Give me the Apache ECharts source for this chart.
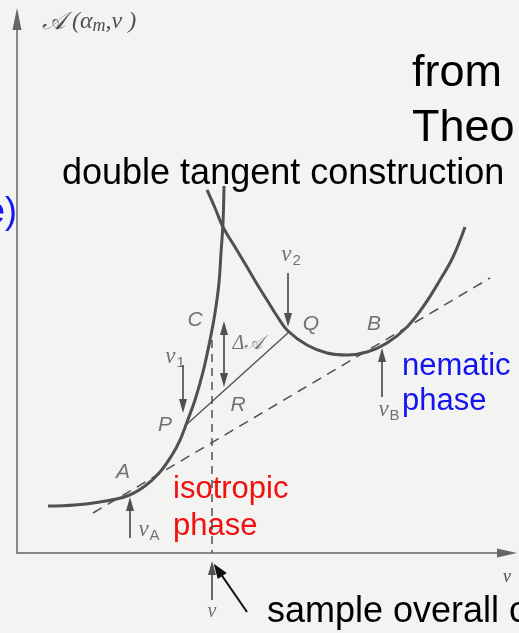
<!DOCTYPE html>
<html>
<head>
<meta charset="utf-8">
<script src="https://cdn.jsdelivr.net/npm/echarts@6/dist/echarts.min.js"></script>
<style>
  html, body { margin: 0; padding: 0; background: #f3f3f1; }
  #chart { width: 519px; height: 633px; }
</style>
</head>
<body>
<div id="chart"></div>
<script>
// Free energy 𝒜(α_m, ν) against concentration ν, both in arbitrary units (0–100).

// isotropic branch (left)
const isotropicCurve = [
  [6.33, 8.80], [11.84, 8.99], [16.94, 9.55], [22.45, 10.67], [26.12, 12.55],
  [29.18, 15.17], [31.63, 18.35], [33.27, 21.16], [34.69, 24.53], [36.33, 28.65],
  [37.96, 33.90], [39.39, 39.89], [40.41, 44.94], [41.22, 50.56], [41.63, 56.18],
  [42.04, 61.80], [42.24, 68.73]
];

// nematic branch (right)
const nematicCurve = [
  [38.78, 67.98], [40.41, 64.61], [42.04, 61.05], [44.49, 57.30], [46.94, 53.56],
  [48.98, 50.37], [51.02, 47.38], [53.06, 44.38], [55.31, 41.57], [59.18, 38.95],
  [63.27, 37.45], [67.35, 37.08], [71.43, 37.64], [75.51, 39.33], [79.59, 42.32],
  [82.86, 46.07], [86.33, 51.12], [88.98, 55.43], [91.43, 61.05]
];

// double tangent touching both branches at A and B
const commonTangent = [[15.51, 7.49], [96.53, 51.50]];
// chord from P (isotropic) to Q (nematic)
const chordPQ = [[34.49, 23.97], [55.51, 41.39]];
// overall sample concentration ν and the height of C above it
const overallNu = 39.80;
const heightAtC = 39.89;

// arrows: [from, to] in axis units
const singleArrows = [
  [[33.88, 35.21], [33.88, 27.53]],   // ν1
  [[55.31, 52.43], [55.31, 43.63]],   // ν2
  [[74.49, 29.21], [74.49, 37.08]],   // νB
  [[23.06, 2.81], [23.06, 9.18]],     // νA
  [[39.80, -8.80], [39.80, -2.81]]    // ν on the axis
];
const deltaArrow = [[42.24, 42.13], [42.24, 32.40]];
const pointerArrow = [[46.94, -11.05], [41.02, -3.15]];

// point letters and symbols
const pointLabels = [
  ['A', 21.63, 15.17], ['P', 30.20, 23.97], ['C', 36.33, 43.63],
  ['R', 45.10, 27.72], ['Q', 60.00, 42.88], ['B', 72.86, 42.88]
];
const nuLabels = [
  ['1', 32.24, 36.70], ['2', 55.92, 55.81], ['B', 75.92, 26.78], ['A', 26.94, 4.31]
];

const INK = '#505050';
const serifItalic = { fontFamily: 'Liberation Serif', fontStyle: 'italic', color: INK };

const chart = echarts.init(document.getElementById('chart'), null, { renderer: 'canvas' });

const option = {
  backgroundColor: '#f3f3f1',
  animation: false,
  grid: { left: 17, top: 19, width: 490, height: 534 },
  xAxis: {
    type: 'value', min: 0, max: 100,
    axisLine: { lineStyle: { color: '#666', width: 1.5 }, symbol: ['none', 'triangle'], symbolSize: [9, 20] },
    axisTick: { show: false }, axisLabel: { show: false }, splitLine: { show: false },
    name: 'ν', nameLocation: 'end', nameGap: 0,
    nameTextStyle: { fontFamily: 'Liberation Serif', fontStyle: 'italic', fontSize: 18, color: INK,
      align: 'center', verticalAlign: 'top', padding: [15, 0, 0, 0] }
  },
  yAxis: {
    type: 'value', min: 0, max: 100,
    axisLine: { lineStyle: { color: '#666', width: 1.5 }, symbol: ['none', 'triangle'], symbolSize: [9, 22] },
    axisTick: { show: false }, axisLabel: { show: false }, splitLine: { show: false },
    name: '{a|𝒜}{t|(α}{m|m}{t|,ν )}', nameLocation: 'end', nameGap: -3,
    nameTextStyle: {
      align: 'left', verticalAlign: 'middle', padding: [0, 0, 0, 25],
      rich: {
        a: { fontFamily: 'DejaVu Serif', fontStyle: 'italic', fontSize: 25, color: INK, padding: [0, 6, 0, 0] },
        t: { fontFamily: 'Liberation Serif', fontStyle: 'italic', fontSize: 24, color: INK },
        m: { fontFamily: 'Liberation Serif', fontStyle: 'italic', fontSize: 18, color: INK, padding: [9, 0, 0, 0] }
      }
    }
  },
  series: [
    {
      type: 'lines', coordinateSystem: 'cartesian2d', clip: false, z: 2,
      lineStyle: { color: INK, width: 1.5, opacity: 1 },
      data: [
        { coords: commonTangent, lineStyle: { type: [10, 7] } },
        { coords: [[overallNu, heightAtC], [overallNu, 0]], lineStyle: { type: [8, 6] } },
        { coords: chordPQ, lineStyle: { width: 1.3 } }
      ]
    },
    {
      type: 'line', data: isotropicCurve, smooth: 0.4, symbol: 'none', z: 3,
      lineStyle: { color: INK, width: 3 }
    },
    {
      type: 'line', data: nematicCurve, smooth: 0.4, symbol: 'none', z: 3,
      lineStyle: { color: INK, width: 3 }
    },
    {
      type: 'lines', coordinateSystem: 'cartesian2d', clip: false, z: 4,
      symbol: ['none', 'triangle'], symbolSize: [0, [8, 14]],
      lineStyle: { color: INK, width: 1.7, opacity: 1 },
      data: singleArrows.map(c => ({ coords: c }))
    },
    {
      type: 'lines', coordinateSystem: 'cartesian2d', clip: false, z: 4,
      symbol: ['triangle', 'triangle'], symbolSize: [[8, 14], [8, 14]],
      lineStyle: { color: INK, width: 1.7, opacity: 1 },
      data: [{ coords: deltaArrow }]
    },
    {
      type: 'lines', coordinateSystem: 'cartesian2d', clip: false, z: 4,
      symbol: ['none', 'triangle'], symbolSize: [0, [11, 15]],
      lineStyle: { color: '#111', width: 2, opacity: 1 },
      data: [{ coords: pointerArrow }]
    },
    {
      type: 'scatter', symbolSize: 0, clip: false, z: 5,
      data: pointLabels.map(d => ({ name: d[0], value: [d[1], d[2]] })),
      label: {
        show: true, position: 'inside', formatter: p => p.name,
        fontFamily: 'Liberation Sans', fontStyle: 'italic', fontSize: 21, color: INK
      }
    },
    {
      type: 'scatter', symbolSize: 0, clip: false, z: 5,
      data: nuLabels.map(d => ({ name: d[0], value: [d[1], d[2]] })),
      label: {
        show: true, position: 'inside', formatter: p => '{v|ν}{s|' + p.name + '}',
        rich: {
          v: Object.assign({ fontSize: 23 }, serifItalic),
          s: { fontFamily: 'Liberation Sans', fontStyle: 'normal', fontSize: 15, color: INK, padding: [12, 0, 0, 1] }
        }
      }
    },
    {
      type: 'scatter', symbolSize: 0, clip: false, z: 5,
      data: [
        { name: 'delta', value: [47.14, 39.14] },
        { name: 'nu', value: [overallNu, -11.05] }
      ],
      label: {
        show: true, position: 'inside',
        formatter: p => p.name === 'delta' ? '{d|Δ}{a|𝒜}' : '{v|ν}',
        rich: {
          d: { fontFamily: 'Liberation Serif', fontStyle: 'italic', fontSize: 20, color: INK },
          a: { fontFamily: 'DejaVu Serif', fontStyle: 'italic', fontSize: 20, color: INK },
          v: Object.assign({ fontSize: 20 }, serifItalic)
        }
      }
    }
  ],
  graphic: [
    { type: 'text', style: { text: 'from', x: 412, y: 74, font: '45px "Liberation Sans"', fill: '#000', verticalAlign: 'middle' } },
    { type: 'text', style: { text: 'Theo', x: 412, y: 129, font: '45px "Liberation Sans"', fill: '#000', verticalAlign: 'middle' } },
    { type: 'text', style: { text: 'double tangent construction', x: 62, y: 174, font: '36px "Liberation Sans"', fill: '#000', verticalAlign: 'middle' } },
    { type: 'text', style: { text: 'e)', x: -15, y: 213, font: '36px "Liberation Sans"', fill: '#1414f0', verticalAlign: 'middle' } },
    { type: 'text', style: { text: 'nematic', x: 402, y: 366, font: '31px "Liberation Sans"', fill: '#1414f0', verticalAlign: 'middle' } },
    { type: 'text', style: { text: 'phase', x: 402, y: 401, font: '31px "Liberation Sans"', fill: '#1414f0', verticalAlign: 'middle' } },
    { type: 'text', style: { text: 'isotropic', x: 173, y: 489, font: '31px "Liberation Sans"', fill: '#f01010', verticalAlign: 'middle' } },
    { type: 'text', style: { text: 'phase', x: 173, y: 526, font: '31px "Liberation Sans"', fill: '#f01010', verticalAlign: 'middle' } },
    { type: 'text', style: { text: 'sample overall c', x: 267, y: 612, font: '36px "Liberation Sans"', fill: '#000', verticalAlign: 'middle' } }
  ]
};

chart.setOption(option);
</script>
</body>
</html>
